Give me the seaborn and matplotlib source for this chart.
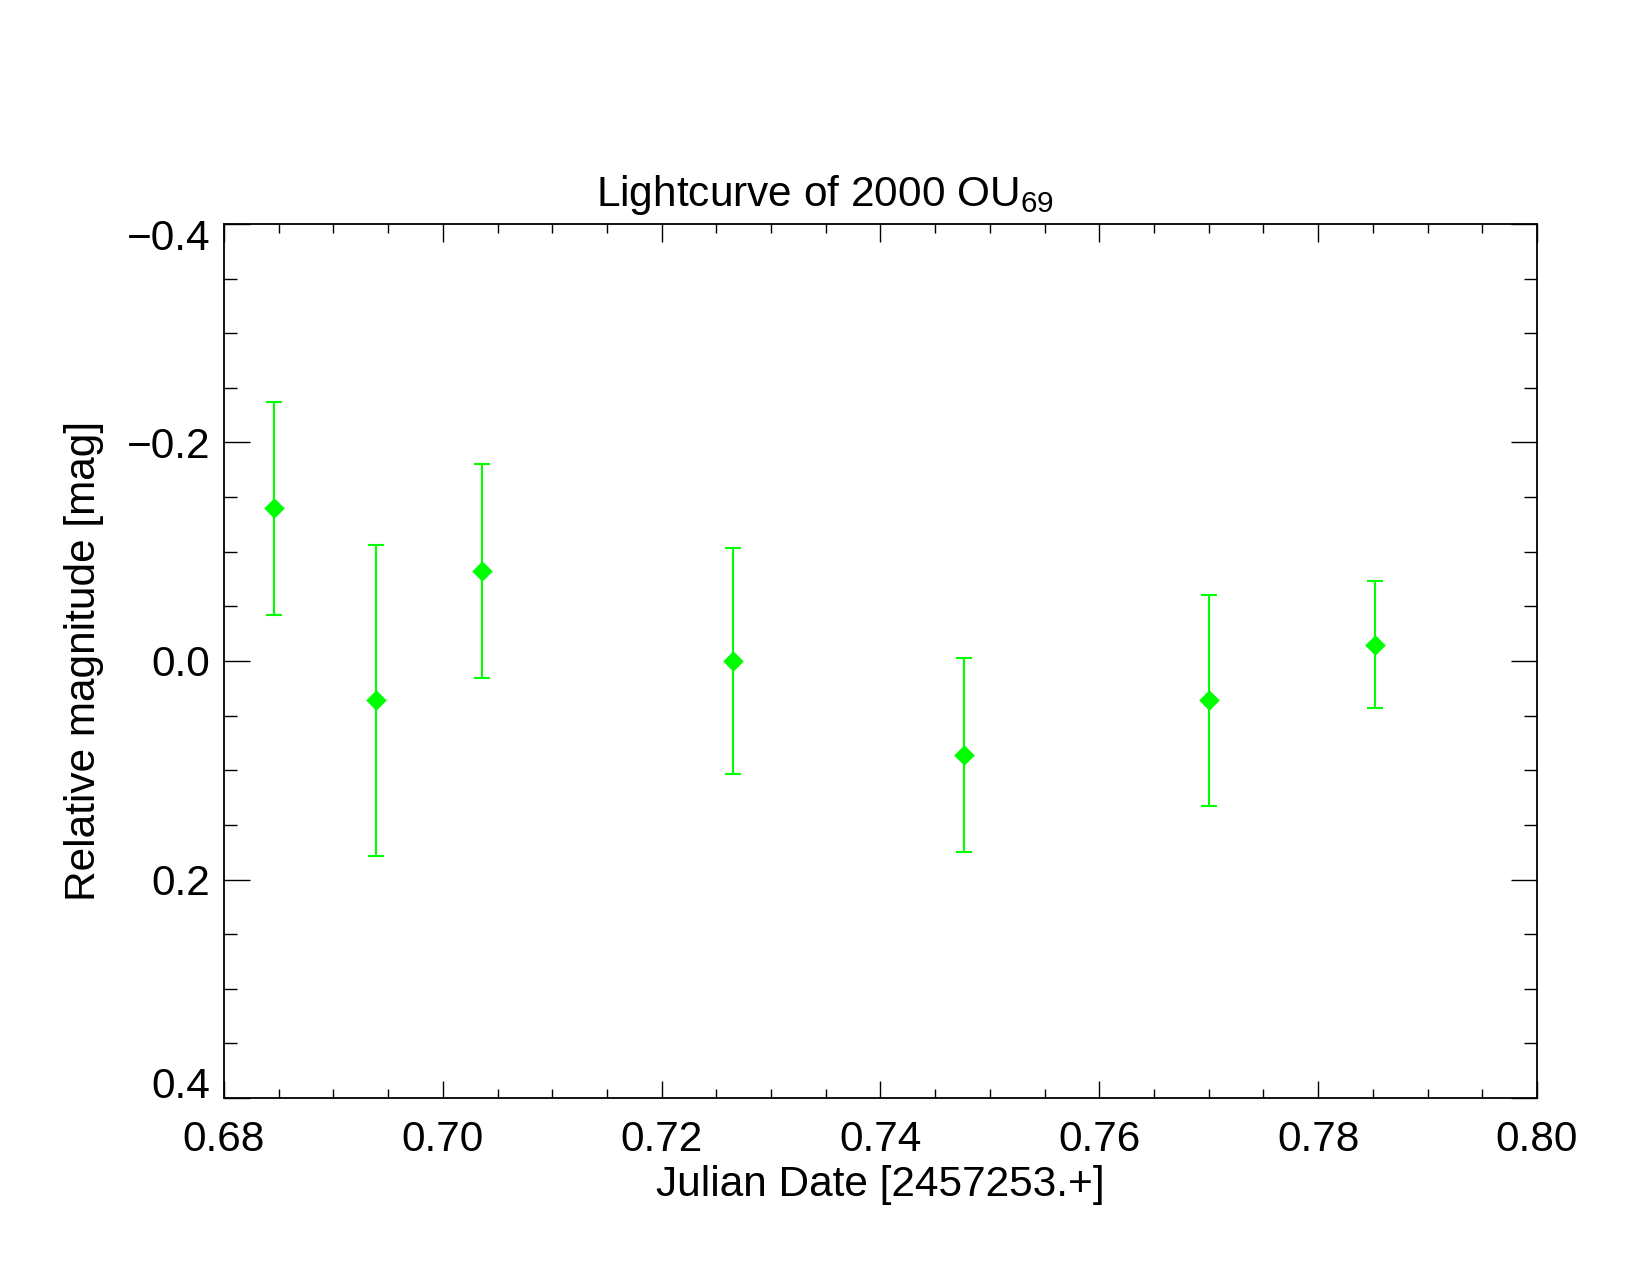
import numpy as np
import pandas as pd
import matplotlib
matplotlib.use("Agg")
import matplotlib.pyplot as plt
import matplotlib.transforms as mtransforms
from matplotlib.ticker import MultipleLocator, FuncFormatter
import seaborn as sns

# ---- data ----
jd = [0.6846, 0.6939, 0.7036, 0.7265, 0.7476, 0.7700, 0.7852]
mag = [-0.140, 0.036, -0.082, 0.000, 0.086, 0.036, -0.015]
mag_err = [0.0975, 0.1425, 0.098, 0.103, 0.0885, 0.0965, 0.058]

title = "Lightcurve of 2000 OU$_{69}$"
xlabel = "Julian Date [2457253.+]"
ylabel = "Relative magnitude [mag]"

df = pd.DataFrame({"jd": jd, "mag": mag, "err": mag_err})

sns.set_theme(style="white")
plt.rcParams["font.family"] = ["Liberation Sans", "DejaVu Sans"]
plt.rcParams["mathtext.fontset"] = "custom"
plt.rcParams["mathtext.rm"] = "Liberation Sans"
plt.rcParams["mathtext.it"] = "Liberation Sans:italic"
plt.rcParams["mathtext.bf"] = "Liberation Sans:bold"

FS = 30.5
GREEN = "#00FF00"

fig = plt.figure(figsize=(16.5, 12.75), dpi=100)
ax = fig.add_axes([224 / 1650, 1 - 1098 / 1275, (1537 - 224) / 1650, (1098 - 224) / 1275])

ax.errorbar(df["jd"], df["mag"], yerr=df["err"], fmt="none", ecolor=GREEN,
            elinewidth=1.5, capsize=5.5, capthick=1.5, zorder=2)
sns.scatterplot(data=df, x="jd", y="mag", marker="D", s=110, color=GREEN,
                edgecolor=GREEN, linewidth=0, ax=ax, zorder=3)

ax.set_xlim(0.68, 0.80)
ax.set_ylim(0.4, -0.4)
ax.xaxis.set_major_locator(MultipleLocator(0.02))
ax.xaxis.set_minor_locator(MultipleLocator(0.005))
ax.yaxis.set_major_locator(MultipleLocator(0.2))
ax.yaxis.set_minor_locator(MultipleLocator(0.05))


def fmt(decimals):
    def f(v, pos):
        s = f"{v:.{decimals}f}"
        if s.startswith("-") and float(s) == 0:
            s = s[1:]
        return s.replace("-", "\u2212")
    return FuncFormatter(f)


ax.xaxis.set_major_formatter(fmt(2))
ax.yaxis.set_major_formatter(fmt(1))

for s in ax.spines.values():
    s.set_visible(True)
    s.set_color("black")
    s.set_linewidth(1.3)

ax.tick_params(axis="x", which="both", direction="in", top=True, bottom=True,
               color="black", width=1.0, labelsize=FS, pad=16, labelcolor="black")
ax.tick_params(axis="x", which="major", length=12.6)
ax.tick_params(axis="x", which="minor", length=6.5)
ax.tick_params(axis="y", which="both", direction="in", left=True, right=True,
               color="black", width=1.0, labelsize=FS, pad=10, labelcolor="black")
ax.tick_params(axis="y", which="major", length=18.7)
ax.tick_params(axis="y", which="minor", length=9.4)

ax.set_xlabel(xlabel, fontsize=FS, color="black")
ax.set_ylabel(ylabel, fontsize=FS, color="black")
ax.xaxis.set_label_coords(0.5, -0.077)
ax.yaxis.set_label_coords(-0.0915, 0.5)

fig.suptitle(title, fontsize=FS, x=0.5, y=1 - 206 / 1275, va="baseline", color="black")

# shift end labels inward like the reference
fig.canvas.draw()
labels = ax.get_yticklabels()
locs = ax.get_yticks()
for loc, lab in zip(locs, labels):
    if np.isclose(loc, -0.4):
        lab.set_transform(lab.get_transform() + mtransforms.ScaledTranslation(0, -11 / 100, fig.dpi_scale_trans))
    elif np.isclose(loc, 0.4):
        lab.set_transform(lab.get_transform() + mtransforms.ScaledTranslation(0, 15 / 100, fig.dpi_scale_trans))

fig.savefig("out.png", dpi=100, facecolor="white")
